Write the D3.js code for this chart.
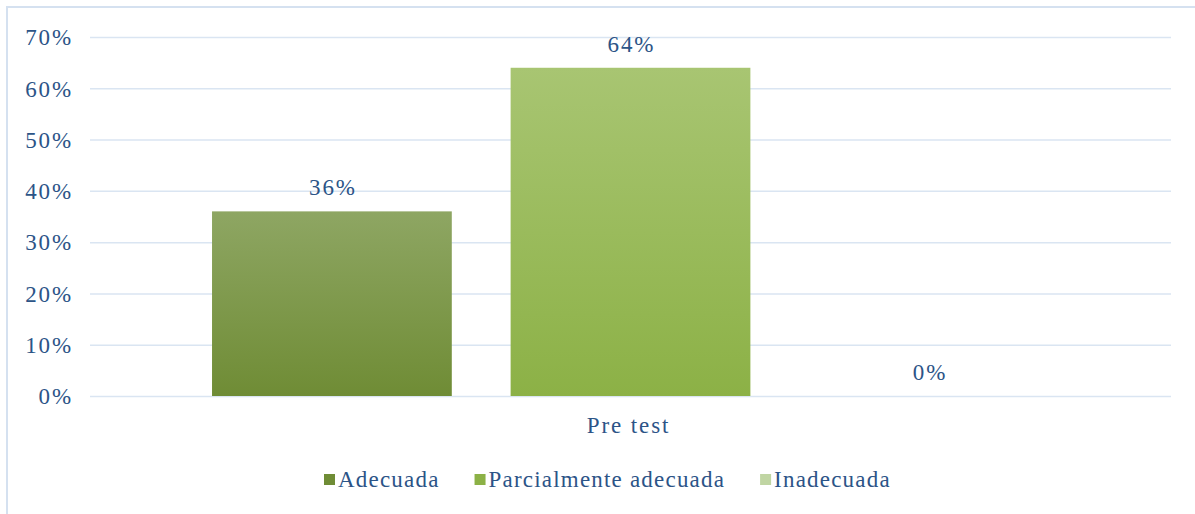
<!DOCTYPE html>
<html>
<head>
<meta charset="utf-8">
<script src="https://cdn.jsdelivr.net/npm/d3@7"></script>
<style>
  body { margin: 0; background: #fff; }
</style>
</head>
<body>
<script>
// chart data
var categories = ["Pre test"];
var series = ["Adecuada", "Parcialmente adecuada", "Inadecuada"];
var values = [0.36, 0.64, 0];
var valueLabels = ["36%", "64%", "0%"];
var ticks = [0, 0.1, 0.2, 0.3, 0.4, 0.5, 0.6, 0.7];

var colorsTop = ["#8ea663", "#a8c572", "#cfdfb9"];
var colorsBottom = ["#6f8c35", "#8cb146", "#c0d5a3"];

var FONT = "'Liberation Serif', 'Times New Roman', Times, serif";
var TXT = "#2c5487";
var FS = "23px", LS = "1.9px";

var W = 1195, H = 514;
var svg = d3.select("body").append("svg")
    .attr("width", W)
    .attr("height", H);

var defs = svg.append("defs");
series.forEach(function(s, i) {
  var gr = defs.append("linearGradient")
      .attr("id", "grad" + i)
      .attr("x1", 0).attr("y1", 0).attr("x2", 0).attr("y2", 1);
  gr.append("stop").attr("offset", "0%").attr("stop-color", colorsTop[i]);
  gr.append("stop").attr("offset", "100%").attr("stop-color", colorsBottom[i]);
});

// frame (cropped on right and bottom)
svg.append("path")
    .attr("d", "M7," + H + " V7 H" + W)
    .attr("fill", "none")
    .attr("stroke", "#d5e1f0")
    .attr("stroke-width", 2);

var y = d3.scaleLinear().domain([0, 0.7]).range([396, 37]);
var x0 = d3.scaleBand().domain(categories).range([90, 1171]).paddingOuter(0.1458);
var x1 = d3.scaleBand().domain(series).range([0, x0.bandwidth()]).paddingInner(0.197).paddingOuter(0);

function txt(sel) {
  return sel.style("font-family", FONT)
      .style("font-size", FS)
      .style("letter-spacing", LS)
      .attr("fill", TXT);
}

// gridlines + y axis labels
var yAxis = svg.append("g")
    .attr("transform", "translate(90,0)")
    .call(d3.axisLeft(y).tickValues(ticks).tickFormat(d3.format(".0%")).tickSize(-1081).tickPadding(17));
yAxis.attr("font-family", null).attr("font-size", null);
yAxis.select(".domain").remove();
yAxis.selectAll("line").attr("stroke", "#dae5f2").attr("stroke-width", 1.5);
txt(yAxis.selectAll("text")).attr("dy", "0.34em");

var g = svg.append("g");
var groups = g.selectAll(".cat")
    .data(categories)
    .enter().append("g")
    .attr("transform", function(d) { return "translate(" + x0(d) + ",0)"; });

groups.selectAll("rect")
    .data(series.map(function(s, i) { return {s: s, v: values[i], i: i}; }))
    .enter().append("rect")
    .attr("x", function(d) { return x1(d.s); })
    .attr("y", function(d) { return y(d.v); })
    .attr("width", x1.bandwidth())
    .attr("height", function(d) { return y(0) - y(d.v); })
    .attr("fill", function(d) { return "url(#grad" + d.i + ")"; });

txt(groups.selectAll(".lbl")
    .data(series.map(function(s, i) { return {s: s, v: values[i], i: i}; }))
    .enter().append("text")
    .attr("class", "lbl")
    .attr("x", function(d) { return x1(d.s) + x1.bandwidth() / 2 + 1; })
    .attr("y", function(d) { return y(d.v) - 16; })
    .attr("text-anchor", "middle"))
    .text(function(d, i) { return valueLabels[i]; });

// category label
txt(svg.selectAll(".cat-label")
    .data(categories)
    .enter().append("text")
    .attr("x", function(d) { return x0(d) + x0.bandwidth() / 2 - 2; })
    .attr("y", 433)
    .attr("text-anchor", "middle"))
    .text(function(d) { return d; });

// legend
var legend = svg.append("g");
var lx = 324;
series.forEach(function(s, i) {
  legend.append("rect")
      .attr("x", lx).attr("y", 474)
      .attr("width", 11).attr("height", 11)
      .attr("fill", colorsBottom[i]);
  var t = txt(legend.append("text")
      .attr("x", lx + 14).attr("y", 487))
      .style("letter-spacing", "1.2px")
      .text(s);
  lx += 14 + t.node().getComputedTextLength() + 35;
});
</script>
</body>
</html>
